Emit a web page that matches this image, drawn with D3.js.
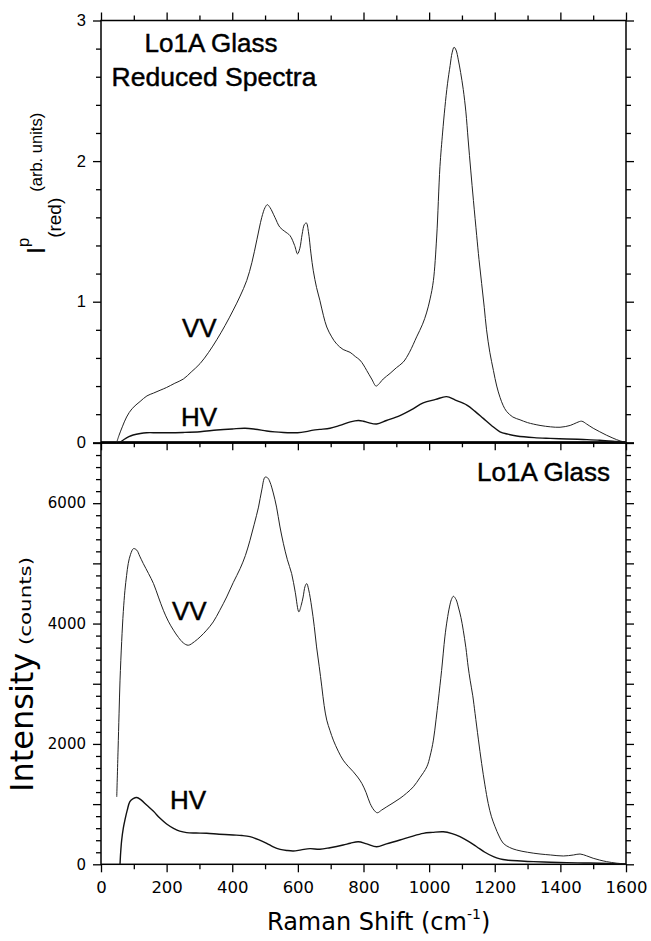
<!DOCTYPE html>
<html>
<head>
<meta charset="utf-8">
<script src="https://cdn.jsdelivr.net/npm/d3@7"></script>
<style>
  html, body { margin: 0; padding: 0; background: #fff; }
  svg { display: block; }
</style>
</head>
<body>
<svg id="chart" width="651" height="941"></svg>
<script>
// ---------------- DATA ----------------
// Raman shift (cm-1), value pairs
const reducedVV = [[48,0.0],[55,0.05],[65,0.11],[78,0.18],[95,0.24],[119,0.29],[140,0.33],[160,0.35],[180,0.37],[200,0.39],[225,0.42],[251,0.45],[275,0.50],[302,0.56],[328,0.64],[353,0.73],[378,0.83],[403,0.94],[424,1.04],[444,1.15],[460,1.28],[475,1.44],[490,1.60],[500,1.67],[507,1.69],[515,1.67],[530,1.60],[545,1.53],[560,1.50],[576,1.47],[590,1.40],[599,1.34],[606,1.38],[613,1.48],[620,1.55],[626,1.56],[632,1.50],[640,1.34],[647,1.22],[657,1.10],[667,1.01],[678,0.90],[688,0.82],[703,0.75],[718,0.70],[738,0.66],[759,0.64],[775,0.61],[789,0.585],[800,0.55],[810,0.51],[825,0.45],[838,0.40],[845,0.41],[860,0.45],[881,0.49],[900,0.53],[921,0.57],[940,0.64],[962,0.75],[980,0.84],[992,0.92],[1003,1.02],[1013,1.15],[1023,1.46],[1033,1.96],[1041,2.20],[1048,2.38],[1056,2.55],[1064,2.68],[1070,2.77],[1076,2.81],[1082,2.79],[1089,2.72],[1096,2.63],[1104,2.51],[1112,2.35],[1119,2.15],[1127,1.93],[1135,1.72],[1145,1.47],[1152,1.30],[1160,1.13],[1168,0.96],[1175,0.80],[1185,0.64],[1196,0.51],[1206,0.40],[1216,0.32],[1226,0.26],[1236,0.22],[1255,0.18],[1277,0.16],[1300,0.14],[1338,0.12],[1370,0.11],[1399,0.107],[1430,0.12],[1450,0.14],[1465,0.15],[1480,0.13],[1500,0.10],[1520,0.075],[1541,0.05],[1560,0.03],[1582,0.01],[1600,0.0]];

const reducedHV = [[58,0.0],[70,0.02],[85,0.04],[98,0.052],[120,0.063],[139,0.068],[170,0.068],[200,0.068],[250,0.07],[302,0.075],[353,0.087],[400,0.095],[439,0.10],[470,0.093],[505,0.08],[530,0.074],[556,0.07],[580,0.068],[599,0.068],[625,0.076],[647,0.087],[667,0.092],[698,0.10],[728,0.12],[760,0.145],[784,0.155],[800,0.15],[815,0.14],[840,0.13],[870,0.155],[911,0.19],[945,0.23],[982,0.28],[1020,0.305],[1053,0.325],[1080,0.30],[1115,0.265],[1140,0.22],[1165,0.17],[1190,0.12],[1216,0.075],[1240,0.058],[1267,0.045],[1320,0.033],[1369,0.028],[1420,0.024],[1470,0.02],[1520,0.015],[1570,0.006],[1600,0.0]];

const countsVV = [[48,1120],[52,1900],[55,2500],[58,3060],[63,3700],[68,4200],[73,4553],[78,4800],[83,4996],[90,5150],[99,5245],[109,5220],[118,5120],[129,4996],[145,4830],[160,4664],[175,4440],[190,4221],[205,4040],[221,3889],[236,3770],[251,3678],[266,3640],[285,3700],[302,3778],[322,3890],[342,4027],[362,4220],[383,4442],[403,4680],[424,4913],[440,5130],[454,5383],[467,5650],[480,5935],[490,6220],[500,6433],[508,6420],[515,6350],[525,6170],[535,5935],[545,5620],[556,5326],[568,5060],[581,4830],[592,4520],[603,4195],[610,4300],[616,4442],[622,4620],[627,4664],[633,4560],[642,4276],[650,3950],[657,3612],[665,3290],[673,2948],[680,2640],[688,2395],[698,2220],[708,2063],[723,1880],[738,1731],[753,1630],[769,1537],[782,1450],[795,1344],[808,1190],[820,1012],[832,900],[842,856],[855,900],[871,956],[890,1020],[911,1095],[931,1180],[952,1288],[972,1440],[993,1620],[1003,1800],[1013,2063],[1021,2400],[1028,2727],[1038,3220],[1048,3778],[1055,4060],[1062,4276],[1068,4400],[1074,4453],[1082,4400],[1089,4276],[1097,4100],[1104,3889],[1112,3600],[1119,3280],[1125,3059],[1133,2800],[1140,2506],[1150,2080],[1160,1676],[1170,1320],[1180,1012],[1190,790],[1201,624],[1213,470],[1226,349],[1245,280],[1267,237],[1300,200],[1338,171],[1370,155],[1409,138],[1440,155],[1460,171],[1480,140],[1500,100],[1520,70],[1541,44],[1570,20],[1600,5]];

const countsHV = [[58,0],[60,200],[63,400],[68,600],[73,738],[80,900],[88,1040],[98,1090],[109,1110],[122,1070],[139,985],[160,880],[180,764],[200,670],[221,598],[240,550],[261,526],[290,520],[322,515],[360,500],[403,487],[430,478],[454,459],[480,410],[505,349],[525,290],[546,249],[566,230],[586,221],[610,240],[637,260],[667,250],[698,276],[738,320],[760,350],[784,375],[810,340],[840,292],[870,340],[911,403],[945,460],[982,514],[1010,530],[1043,541],[1070,510],[1094,458],[1120,380],[1145,292],[1170,200],[1196,126],[1216,90],[1236,71],[1280,55],[1318,44],[1370,34],[1419,27],[1470,22],[1521,17],[1560,10],[1600,5]];

const xTickLabels = [0,200,400,600,800,1000,1200,1400,1600];
const topYTickLabels = [0,1,2,3];
const bottomYTickLabels = [0,2000,4000,6000];

// ---------------- LAYOUT ----------------
const svg = d3.select("#chart");
const x = d3.scaleLinear().domain([0,1600]).range([101,626]);
const yTop = d3.scaleLinear().domain([0,3]).range([442.3,20.5]);
const yBot = d3.scaleLinear().domain([0,7000]).range([864.3,443]);

const xMinor = d3.range(100,1600,200);
const topMinor = d3.range(0,3.01,0.2).filter(v => Math.abs(v - Math.round(v)) > 1e-6);
const botMajor = d3.range(0,7001,1000);
const botMinor = d3.range(0,7001,200).filter(v => v % 1000 !== 0);

function styleAxis(g, fontFamily, fontSize){
  g.select(".domain").remove();
  g.selectAll(".tick line").attr("stroke","#000").attr("stroke-width",1.3);
  g.selectAll("text").attr("font-family",fontFamily).attr("font-size",fontSize).attr("fill","#000");
}
function addAxis(axis, tx, ty, fontFamily, fontSize){
  const g = svg.append("g").attr("transform",`translate(${tx},${ty})`).call(axis);
  styleAxis(g, fontFamily, fontSize);
  return g;
}
const noLabel = () => "";

// ---- Top panel axes ----
addAxis(d3.axisLeft(yTop).tickValues(topMinor).tickSize(5).tickFormat(noLabel),101,0);
addAxis(d3.axisLeft(yTop).tickValues(topYTickLabels).tickSize(8).tickPadding(7).tickFormat(d3.format("d")),101,0,"Liberation Sans, Arial, sans-serif","16.5px");
addAxis(d3.axisRight(yTop).tickValues(topMinor).tickSize(5).tickFormat(noLabel),626,0);
addAxis(d3.axisRight(yTop).tickValues(topYTickLabels).tickSize(8).tickFormat(noLabel),626,0);
addAxis(d3.axisTop(x).tickValues(xMinor).tickSize(5).tickFormat(noLabel),0,20.5);
addAxis(d3.axisTop(x).tickValues(xTickLabels).tickSize(8).tickFormat(noLabel),0,20.5);
addAxis(d3.axisBottom(x).tickValues(xMinor).tickSize(5).tickFormat(noLabel),0,442.3);
addAxis(d3.axisBottom(x).tickValues(xTickLabels).tickSize(8).tickFormat(noLabel),0,442.3);

// ---- Bottom panel axes ----
addAxis(d3.axisLeft(yBot).tickValues(botMinor).tickSize(5).tickFormat(noLabel),101,0);
addAxis(d3.axisLeft(yBot).tickValues(botMajor).tickSize(8).tickPadding(7)
  .tickFormat(d => bottomYTickLabels.includes(d) ? d3.format("d")(d) : ""),101,0,"DejaVu Sans, Verdana, sans-serif","15px");
addAxis(d3.axisRight(yBot).tickValues(botMinor).tickSize(5).tickFormat(noLabel),626,0);
addAxis(d3.axisRight(yBot).tickValues(botMajor).tickSize(8).tickFormat(noLabel),626,0);
addAxis(d3.axisBottom(x).tickValues(xMinor).tickSize(5).tickFormat(noLabel),0,864.3);
addAxis(d3.axisBottom(x).tickValues(xTickLabels).tickSize(8).tickPadding(9).tickFormat(d3.format("d")),0,864.3,"DejaVu Sans, Verdana, sans-serif","16.5px");

// frames
svg.append("rect").attr("x",101).attr("y",20.5).attr("width",525).attr("height",442.3-20.5)
  .attr("fill","none").attr("stroke","#000").attr("stroke-width",1.5);
svg.append("rect").attr("x",101).attr("y",443).attr("width",525).attr("height",864.3-443)
  .attr("fill","none").attr("stroke","#000").attr("stroke-width",1.5);
svg.append("line").attr("x1",101).attr("x2",626).attr("y1",442.6).attr("y2",442.6)
  .attr("stroke","#000").attr("stroke-width",2.5);

// ---- Curves ----
function drawLine(data, yScale, width, color){
  const line = d3.line().x(d => x(d[0])).y(d => yScale(d[1])).curve(d3.curveCatmullRom.alpha(0.5));
  svg.append("path").datum(data).attr("d",line).attr("fill","none")
    .attr("stroke",color).attr("stroke-width",width).attr("stroke-linejoin","round");
}
drawLine(reducedVV, yTop, 1, "#222");
drawLine(reducedHV, yTop, 1.4, "#111");
drawLine(countsVV, yBot, 1, "#222");
drawLine(countsHV, yBot, 1.4, "#111");

// ---- Annotations ----
const labFont = "Liberation Sans, Arial, Helvetica, sans-serif";
function txt(s, xx, yy, size, anchor, family){
  return svg.append("text").attr("x",xx).attr("y",yy).attr("font-size",size)
    .attr("font-family",family || labFont).attr("text-anchor",anchor || "start")
    .attr("fill","#000").attr("stroke","#000").attr("stroke-width",0.45).text(s);
}
txt("Lo1A Glass", 211, 52, "26px", "middle");
txt("Reduced Spectra", 214, 86, "26.5px", "middle");
txt("VV", 182, 337, "26px");
txt("HV", 181, 426, "26px");
txt("VV", 172, 620, "26px");
txt("HV", 170, 809, "26px");
txt("Lo1A Glass", 610, 481, "26px", "end");

// x axis title
const xt = svg.append("text").attr("x",267).attr("y",930).attr("font-family","DejaVu Sans, Verdana, sans-serif")
  .attr("font-size","24px").attr("fill","#000");
xt.append("tspan").text("Raman Shift (cm");
xt.append("tspan").attr("font-size","14px").attr("dy",-11).text("-1");
xt.append("tspan").attr("dy",11).text(")");

// bottom y title
svg.append("text").attr("transform","translate(33,792) rotate(-90)")
  .attr("font-family","DejaVu Sans, Verdana, sans-serif").attr("font-size","32px").attr("fill","#000")
  .text("Intensity");
svg.append("text").attr("transform","translate(31,645) rotate(-90)")
  .attr("font-family","DejaVu Sans, Verdana, sans-serif").attr("font-size","15px").attr("fill","#000")
  .attr("textLength",88).attr("lengthAdjust","spacingAndGlyphs")
  .text("(counts)");

// top y title
const yt = svg.append("text").attr("transform","translate(45,254) rotate(-90)")
  .attr("font-family",labFont).attr("fill","#000");
yt.append("tspan").attr("font-size","25px").text("I");
yt.append("tspan").attr("font-size","16.5px").attr("dy",-16).text("p");
yt.append("tspan").attr("font-size","19px").attr("dy",32).text("(red)");
yt.append("tspan").attr("font-size","16.5px").attr("dx",6).attr("dy",-19).text("(arb. units)");
</script>
</body>
</html>
